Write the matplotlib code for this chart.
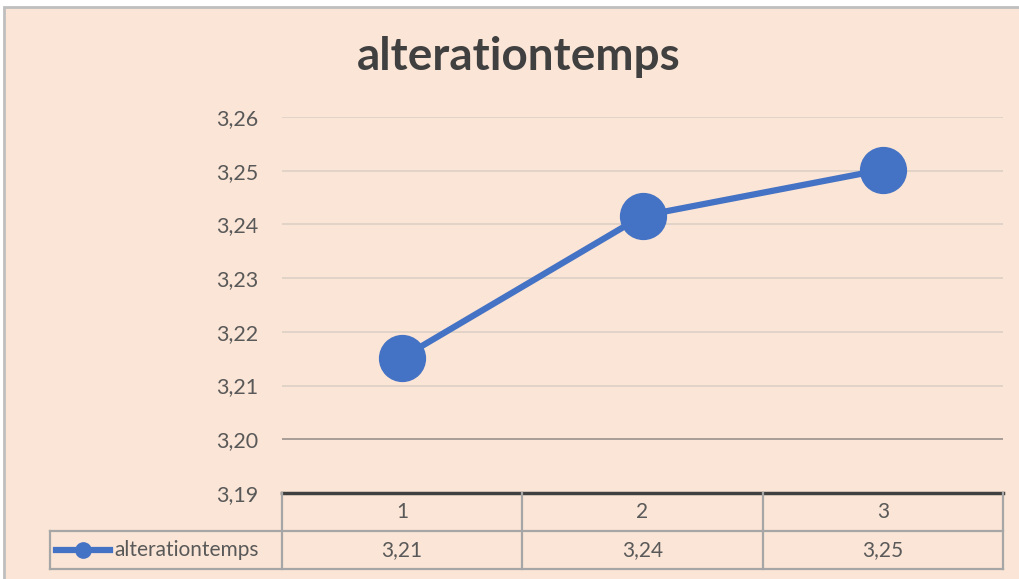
import matplotlib.pyplot as plt
from matplotlib.patches import Rectangle
from matplotlib.lines import Line2D

plt.rcParams['font.family'] = ['Lato', 'DejaVu Sans']

categories = ['1', '2', '3']
values = [3.2152, 3.2416, 3.2502]
table_values = ['3,21', '3,24', '3,25']
series_name = 'alterationtemps'
yticks = [3.19, 3.20, 3.21, 3.22, 3.23, 3.24, 3.25, 3.26]

W, H = 1020, 579
bg = '#FBE5D6'
blue = '#4472C4'
text_col = '#595959'
grid_col = '#DDD0C6'
table_col = '#A6A6A6'

fig = plt.figure(figsize=(W / 100, H / 100), dpi=100, facecolor='white')

def fx(px):
    return px / W

def fy(py):
    return 1 - py / H

# chart area background with grey frame (top and left visible)
fig.add_artist(Rectangle((fx(4), -0.05), 1.1, fy(7) + 0.05, transform=fig.transFigure,
                         facecolor=bg, edgecolor='#BFBFBF', linewidth=2, zorder=0))

left, right, top, bottom = 282, 1003, 117, 493
ax = fig.add_axes([fx(left), fy(bottom), fx(right - left), fy(top) - fy(bottom)])
ax.patch.set_alpha(0)

x = list(range(1, len(categories) + 1))
ax.plot(x, values, color=blue, linewidth=4.5, marker='o', markersize=33, zorder=3)

ax.set_xlim(0.5, len(categories) + 0.5)
ax.set_ylim(yticks[0], yticks[-1])
ax.set_yticks(yticks)
ax.set_yticklabels([f'{t:.2f}'.replace('.', ',') for t in yticks], fontsize=15.5, color=text_col)
ax.tick_params(axis='y', length=0, pad=17)
ax.set_xticks([])
for t in yticks[1:]:
    c = '#9A928C' if t == 3.20 else grid_col
    ax.axhline(t, color=c, linewidth=1.2, zorder=1)
for s in ['left', 'right', 'top']:
    ax.spines[s].set_visible(False)
ax.spines['bottom'].set_color('#404040')
ax.spines['bottom'].set_linewidth(2.5)

fig.text(fx(519), fy(57), series_name, ha='center', va='center', fontsize=33,
         fontweight='bold', color='#404040')

# data table below the axis
col_w = (right - left) / len(categories)
row1, row2, row3 = 493, 531, 569
leg_left = 50

def hline(x0, x1, y):
    fig.add_artist(Line2D([fx(x0), fx(x1)], [fy(y), fy(y)], color=table_col, linewidth=1.6,
                          transform=fig.transFigure))

def vline(xx, y0, y1):
    fig.add_artist(Line2D([fx(xx), fx(xx)], [fy(y0), fy(y1)], color=table_col, linewidth=1.6,
                          transform=fig.transFigure))

hline(leg_left, right, row2)
hline(leg_left, right, row3)
vline(leg_left, row2, row3)
for i in range(len(categories) + 1):
    vline(left + i * col_w, row1, row3)

for i, (cat, val) in enumerate(zip(categories, table_values)):
    cx = left + (i + 0.5) * col_w
    fig.text(fx(cx), fy((row1 + row2) / 2), cat, ha='center', va='center', fontsize=15, color=text_col)
    fig.text(fx(cx), fy((row2 + row3) / 2), val, ha='center', va='center', fontsize=15, color=text_col)

# legend key in the table
ym = fy((row2 + row3) / 2)
fig.add_artist(Line2D([fx(56), fx(110)], [ym, ym], color=blue, linewidth=4.5,
                      transform=fig.transFigure))
fig.add_artist(Line2D([fx(83)], [ym], color=blue, marker='o', markersize=11,
                      transform=fig.transFigure))
fig.text(fx(114), ym, series_name, ha='left', va='center', fontsize=15, color=text_col)

fig.savefig('out.png', dpi=100, facecolor='white')
